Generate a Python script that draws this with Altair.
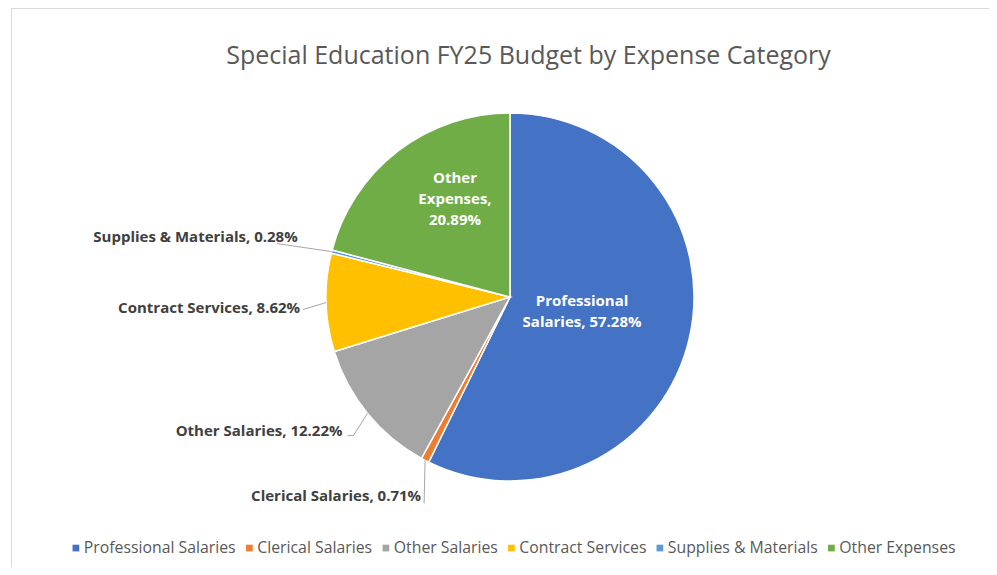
import altair as alt
import pandas as pd

# ---------------- data ----------------
categories = [
    "Professional Salaries",
    "Clerical Salaries",
    "Other Salaries",
    "Contract Services",
    "Supplies & Materials",
    "Other Expenses",
]
shares = [57.28, 0.71, 12.22, 8.62, 0.28, 20.89]
colors = ["#4472C4", "#ED7D31", "#A5A5A5", "#FFC000", "#5B9BD5", "#70AD47"]

# label text lines (as Excel wraps them)
label_lines = {
    "Professional Salaries": ["Professional", "Salaries, 57.28%"],
    "Other Expenses": ["Other", "Expenses,", "20.89%"],
}

# ---------------- layout (pixels, plot coordinates) ----------------
CX, CY, R = 502, 289, 184
# inside labels: radius from centre, extra dx, dy
inside_layout = {
    "Professional Salaries": (75, -1, -13),
    "Other Expenses": (100, 6, -40),
}
# outside labels, relative to slice edge point:
# text anchor (right end) dx,dy ; elbow dx,dy ; leader end dx,dy
outside_layout = {
    "Clerical Salaries": (-4, 36, -1, 43, -1, 43),
    "Other Salaries": (-25, 18, -14, 22, -20, 22),
    "Contract Services": (-26, 5, -23, 7, -23, 7),
    "Supplies & Materials": (-34, -15, -55, -8, -55, -8),
}

rows = []
for i, (c, s) in enumerate(zip(categories, shares)):
    row = dict(category=c, share=s, order=i)
    if c in inside_layout:
        r, dx, dy = inside_layout[c]
        row.update(kind="in", lr=r, tdx=dx, tdy=dy, edx=0, edy=0, ndx=0, ndy=0,
                   label=label_lines[c])
    else:
        tdx, tdy, edx, edy, ndx, ndy = outside_layout[c]
        row.update(kind="out", lr=R, tdx=tdx, tdy=tdy, edx=edx, edy=edy,
                   ndx=ndx, ndy=ndy, label=f"{c}, {s:.2f}%")
    rows.append(row)
df = pd.DataFrame(rows)

FONT = "Open Sans"

base = (
    alt.Chart(df)
    .transform_window(cum="sum(share)", sort=[alt.SortField("order")])
    .transform_calculate(
        mid="(datum.cum - datum.share/2) / 100 * 2 * PI",
    )
    .transform_calculate(
        ex=f"{CX} + {R} * sin(datum.mid)",
        ey=f"{CY} - {R} * cos(datum.mid)",
        px=f"{CX} + datum.lr * sin(datum.mid) + datum.tdx",
        py=f"{CY} - datum.lr * cos(datum.mid) + datum.tdy",
    )
    .transform_calculate(
        bx="datum.ex + datum.edx",
        by="datum.ey + datum.edy",
        nx="datum.ex + datum.ndx",
        ny="datum.ey + datum.ndy",
    )
)

pie = base.mark_arc(radius=R, stroke="white", strokeWidth=1.5).encode(
    theta=alt.Theta("share:Q", stack=True),
    order=alt.Order("order:Q"),
    color=alt.Color(
        "category:N",
        scale=alt.Scale(domain=categories, range=colors),
        sort=categories,
        legend=alt.Legend(
            title=None,
            orient="none",
            direction="horizontal",
            legendX=60,
            legendY=532,
            symbolType="square",
            symbolSize=45,
            symbolStrokeWidth=0,
            labelFont=FONT,
            labelFontSize=15.8,
            labelColor="#595959",
            labelOffset=0,
            columnPadding=5.5,
            padding=0,
            columns=6,
        ),
    ),
    x=alt.value(CX),
    y=alt.value(CY),
)

X = lambda f: alt.X(f, scale=None, axis=None)
Y = lambda f: alt.Y(f, scale=None, axis=None)

leader1 = base.transform_filter("datum.kind == 'out'").mark_rule(
    color="#A6A6A6", strokeWidth=1
).encode(x=X("ex:Q"), y=Y("ey:Q"), x2="bx:Q", y2="by:Q")

leader2 = base.transform_filter("datum.kind == 'out'").mark_rule(
    color="#A6A6A6", strokeWidth=1
).encode(x=X("bx:Q"), y=Y("by:Q"), x2="nx:Q", y2="ny:Q")

inside_text = base.transform_filter("datum.kind == 'in'").mark_text(
    font=FONT, fontSize=15, fontWeight="bold", color="white",
    align="center", baseline="middle", lineHeight=21,
).encode(x=X("px:Q"), y=Y("py:Q"), text="label:N")

outside_text = base.transform_filter("datum.kind == 'out'").mark_text(
    font=FONT, fontSize=15, fontWeight="bold", color="#404040",
    align="right", baseline="middle",
).encode(x=X("px:Q"), y=Y("py:Q"), text="label:N")

border = alt.Chart(pd.DataFrame({"k": [0]})).mark_rule(
    color="#D9D9D9", strokeWidth=1
)
border_top = border.encode(x=alt.value(3.5), x2=alt.value(981), y=alt.value(0.5))
border_left = border.encode(x=alt.value(3.5), y=alt.value(0.5), y2=alt.value(559))

chart = (
    alt.layer(border_top, border_left, pie, leader1, leader2, inside_text, outside_text)
    .properties(
        width=981,
        height=559,
        autosize=alt.AutoSizeParams(type="none"),
        padding=0,
        title=alt.TitleParams(
            "Special Education FY25 Budget by Expense Category",
            anchor="middle",
            frame="group",
            font=FONT,
            fontSize=25,
            fontWeight="normal",
            color="#595959",
            baseline="alphabetic",
            offset=0,
            dx=30,
            dy=81,
        ),
    )
    .configure_view(stroke=None)
)

chart.save("out.html", embed_options={"renderer": "svg", "actions": False})
